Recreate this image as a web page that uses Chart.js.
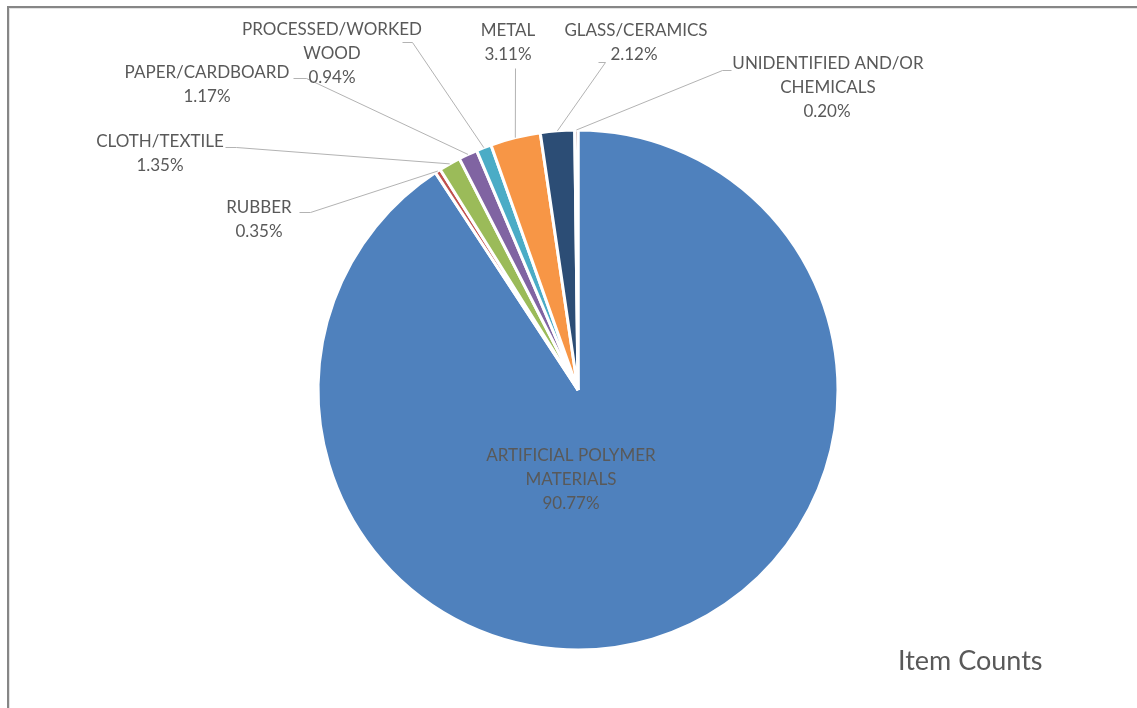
<!DOCTYPE html>
<html>
<head>
<meta charset="utf-8">
<script src="https://cdn.jsdelivr.net/npm/chart.js@4/dist/chart.umd.min.js"></script>
<style>
  html, body { margin: 0; padding: 0; background: #fff; overflow: hidden; }
  #wrap { position: relative; width: 1137px; height: 708px; }
</style>
</head>
<body>
<div id="wrap"><canvas id="pie" width="1137" height="708"></canvas></div>
<script>
const categories = [
    'ARTIFICIAL POLYMER\nMATERIALS',
    'RUBBER',
    'CLOTH/TEXTILE',
    'PAPER/CARDBOARD',
    'PROCESSED/WORKED\nWOOD',
    'METAL',
    'GLASS/CERAMICS',
    'UNIDENTIFIED AND/OR\nCHEMICALS'
];
const shares = [90.77, 0.35, 1.35, 1.17, 0.94, 3.11, 2.12, 0.20];
const sliceColors = ['#4F81BD', '#C0504D', '#9BBB59', '#8064A2', '#4BACC6', '#F79646', '#2C4D75', '#772C2A'];
const chartTitle = 'Item Counts';

// text centre of the first line, and the bends of the leader line (if any)
const labelLayout = [
    { x: 571, y: 456 },
    { x: 259, y: 208, leader: [[310, 212], [299, 212]] },
    { x: 160, y: 142, leader: [[236, 147], [225, 147]] },
    { x: 207, y: 73,  leader: [[306, 78], [293, 78]] },
    { x: 332, y: 30,  leader: [[412, 42], [402, 42]] },
    { x: 508, y: 31,  leader: [[515, 68]] },
    { x: 636, y: 31,  pctX: 634, leader: [[605, 62], [598, 62]] },
    { x: 828, y: 64,  pctX: 827, leader: [[722, 70], [731, 70]] }
];

const labelFont = '17px Lato, "Open Sans", sans-serif';
const textGray = '#595959';

const pieLabels = {
    id: 'pieLabels',
    beforeDraw: function(chart) {
        const ctx = chart.ctx;
        ctx.save();
        ctx.fillStyle = '#ffffff';
        ctx.fillRect(0, 0, chart.width, chart.height);
        ctx.fillStyle = '#e3e3e3';
        ctx.fillRect(9, 8, chart.width, 1);
        ctx.fillRect(9, 8, 1, chart.height);
        ctx.fillStyle = '#868686';
        ctx.fillRect(7, 6, chart.width, 2);
        ctx.fillRect(7, 6, 2, chart.height);
        ctx.restore();
    },
    afterDatasetsDraw: function(chart) {
        const ctx = chart.ctx;
        const arcs = chart.getDatasetMeta(0).data;
        ctx.save();
        ctx.strokeStyle = '#b3b3b3';
        ctx.lineWidth = 1;
        ctx.font = labelFont;
        ctx.fillStyle = textGray;
        ctx.textAlign = 'center';
        ctx.textBaseline = 'middle';
        arcs.forEach(function(arc, i) {
            const spot = labelLayout[i];
            if (spot.leader) {
                const mid = (arc.startAngle + arc.endAngle) / 2;
                const r = arc.outerRadius;
                ctx.beginPath();
                ctx.moveTo(arc.x + Math.cos(mid) * r, arc.y + Math.sin(mid) * r);
                spot.leader.forEach(function(p) { ctx.lineTo(p[0] + 0.5, p[1] + 0.5); });
                ctx.stroke();
            }
            const lines = categories[i].split('\n');
            lines.forEach(function(t, k) {
                ctx.fillText(t, spot.x, spot.y + k * 24);
            });
            ctx.fillText(shares[i].toFixed(2) + '%', spot.pctX || spot.x, spot.y + lines.length * 24);
        });
        ctx.font = '27px Lato, "Open Sans", sans-serif';
        ctx.textAlign = 'left';
        ctx.fillText(chartTitle, 898, 661);
        ctx.restore();
    }
};

new Chart(document.getElementById('pie').getContext('2d'), {
    type: 'pie',
    data: {
        labels: categories,
        datasets: [{
            data: shares,
            backgroundColor: sliceColors,
            borderColor: '#ffffff',
            borderWidth: 3
        }]
    },
    options: {
        responsive: false,
        animation: false,
        radius: 260,
        layout: { padding: { left: 19, right: 0, top: 72, bottom: 0 } },
        plugins: {
            legend: { display: false },
            tooltip: { enabled: false }
        }
    },
    plugins: [pieLabels]
});
</script>
</body>
</html>
